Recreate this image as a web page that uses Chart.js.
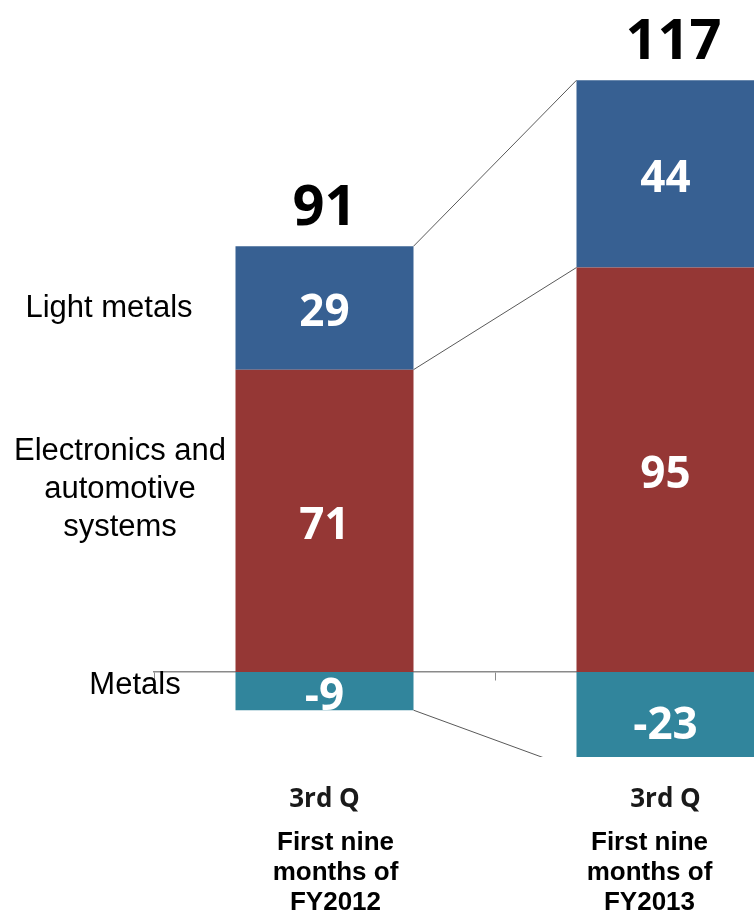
<!DOCTYPE html>
<html>
<head>
<meta charset="utf-8">
<script src="https://cdn.jsdelivr.net/npm/chart.js@4.4.0/dist/chart.umd.min.js"></script>
<style>
  html, body { margin: 0; padding: 0; background: #fff; overflow: hidden; }
  #chart { display: block; }
</style>
</head>
<body>
<canvas id="chart" width="836" height="916"></canvas>
<script>
  // data
  const categories = ['FY2012', 'FY2013'];
  const quarterLabels = ['3rd Q', '3rd Q'];
  const periodLabels = [
    ['First nine', 'months of', 'FY2012'],
    ['First nine', 'months of', 'FY2013']
  ];
  const metals = [-9, -23];
  const electronics = [71, 95];
  const lightMetals = [29, 44];
  const totals = [91, 117]; // as printed in the source (rounded)
  const segmentNames = [['Metals'], ['Electronics and', 'automotive', 'systems'], ['Light metals']];

  const colors = ['#31859C', '#953735', '#376092'];

  // draws connectors, values, totals and text labels
  const labelsPlugin = {
    id: 'labelsPlugin',
    afterDatasetsDraw(chart) {
      const ctx = chart.ctx;
      const ca = chart.chartArea;
      const metas = chart.data.datasets.map((d, i) => chart.getDatasetMeta(i));

      // connector lines between the bars
      ctx.save();
      ctx.beginPath();
      ctx.rect(ca.left, ca.top, ca.right - ca.left, ca.bottom - ca.top);
      ctx.clip();
      ctx.strokeStyle = '#595959';
      ctx.lineWidth = 1;
      metas.forEach(meta => {
        const a = meta.data[0], b = meta.data[1];
        ctx.beginPath();
        ctx.moveTo(a.x + a.width / 2, a.y);
        ctx.lineTo(b.x - b.width / 2, b.y);
        ctx.stroke();
      });
      ctx.restore();

      // values inside segments
      ctx.save();
      ctx.textAlign = 'center';
      ctx.textBaseline = 'middle';
      ctx.fillStyle = '#fff';
      ctx.font = 'bold 44px "Open Sans"';
      metas.forEach((meta, di) => {
        meta.data.forEach((bar, i) => {
          const v = chart.data.datasets[di].data[i];
          ctx.fillText(String(v), bar.x, (bar.y + bar.base) / 2 + 6);
        });
      });

      // totals above bars
      ctx.fillStyle = '#000';
      ctx.font = 'bold 56px "Open Sans"';
      ctx.textBaseline = 'alphabetic';
      categories.forEach((c, i) => {
        let top = Infinity;
        metas.forEach(meta => {
          top = Math.min(top, meta.data[i].y, meta.data[i].base);
        });
        ctx.fillText(String(totals[i]), metas[0].data[i].x + (i ? 8 : 0), top - 21);
      });

      // segment names on the left, next to first bar
      ctx.font = '31px "Liberation Sans", Arial';
      ctx.textBaseline = 'middle';
      const nameX = [135, 120, 109];
      const nameShift = [-6, -31, 0];
      metas.forEach((meta, di) => {
        const bar = meta.data[0];
        const lines = segmentNames[di];
        const mid = (bar.y + bar.base) / 2 + nameShift[di];
        lines.forEach((t, k) => {
          ctx.fillText(t, nameX[di], mid + (k - (lines.length - 1) / 2) * 38);
        });
      });

      // category labels below
      const xOff = [11, -16];
      categories.forEach((c, i) => {
        const x = metas[0].data[i].x;
        ctx.font = 'bold 26px "Open Sans"';
        ctx.fillStyle = '#1a1a1a';
        ctx.fillText(quarterLabels[i], x, ca.bottom + 43);
        ctx.font = 'bold 26px "Liberation Sans", Arial';
        ctx.fillStyle = '#000';
        periodLabels[i].forEach((t, k) => {
          ctx.fillText(t, x + xOff[i], ca.bottom + 86 + k * 30);
        });
      });
      ctx.restore();
    }
  };

  const data = {
    labels: categories,
    datasets: [
      { label: 'Metals', data: metals, backgroundColor: colors[0] },
      { label: 'Electronics and automotive systems', data: electronics, backgroundColor: colors[1] },
      { label: 'Light metals', data: lightMetals, backgroundColor: colors[2] }
    ]
  };

  const config = {
    type: 'bar',
    data: data,
    options: {
      responsive: false,
      animation: false,
      events: [],
      barPercentage: 0.522,
      categoryPercentage: 1,
      layout: { padding: { left: 154, right: 0, top: 76, bottom: 159 } },
      plugins: { legend: { display: false }, tooltip: { enabled: false } },
      scales: {
        x: {
          stacked: true,
          position: { y: 0 },
          grid: { display: true, drawOnChartArea: false, drawTicks: true, tickLength: 8, color: '#8a8a8a', offset: true },
          border: { display: true, color: '#8a8a8a', width: 1.5 },
          ticks: { display: false }
        },
        y: {
          stacked: true,
          display: false,
          min: -20,
          max: 140
        }
      }
    },
    plugins: [labelsPlugin]
  };

  const myChart = new Chart(document.getElementById('chart'), config);
</script>
</body>
</html>
